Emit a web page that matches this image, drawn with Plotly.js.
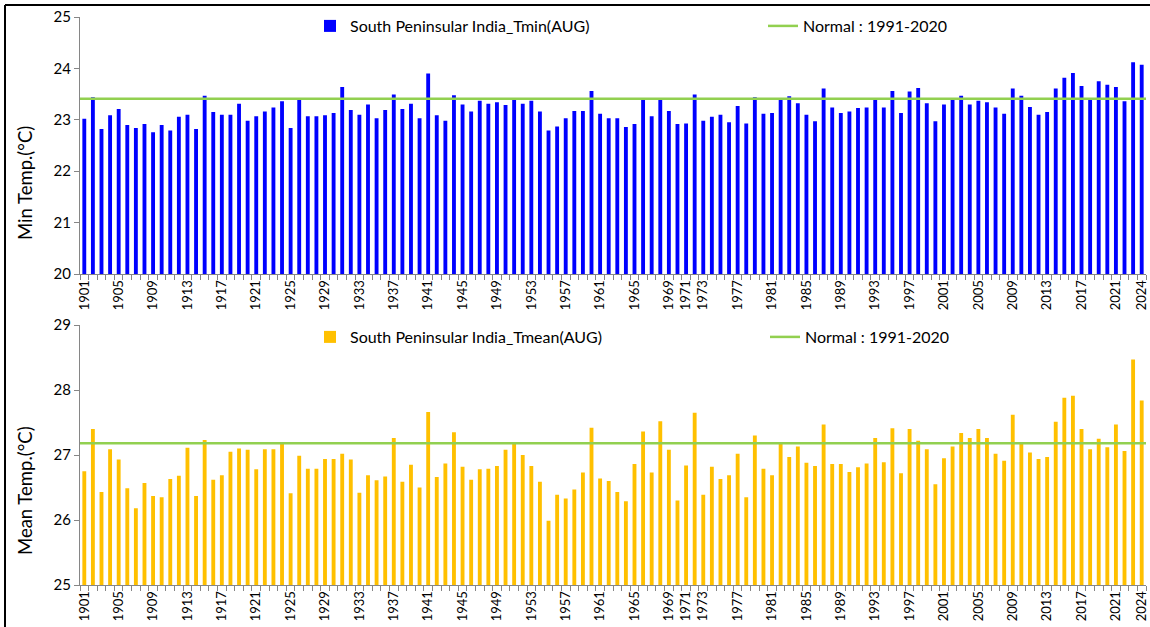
<!DOCTYPE html>
<html>
<head>
<meta charset="utf-8">
<script src="https://cdn.plot.ly/plotly-3.0.1.min.js"></script>
<style>html,body{margin:0;padding:0;background:#fff;}#chart{width:1150px;height:627px;}</style>
</head>
<body>
<div id="chart"></div>
<script>
const years = [];
for (let y = 1901; y <= 2024; y++) years.push(y);

const tmin = [
  23.02,23.44,22.82,23.09,23.21,22.90,22.84,22.92,22.76,22.90,22.79,23.06,23.10,22.82,23.47,23.15,23.10,23.10,23.31,22.98,23.07,23.16,23.24,23.36,22.84,
  23.40,23.07,23.07,23.09,23.13,23.64,23.19,23.10,23.30,23.03,23.19,23.49,23.21,23.31,23.03,23.90,23.09,22.98,23.48,23.30,23.16,23.37,23.31,23.34,
  23.29,23.40,23.31,23.37,23.16,22.79,22.87,23.03,23.17,23.17,23.56,23.12,23.03,23.03,22.86,22.92,23.40,23.07,23.40,23.17,22.92,22.93,23.49,22.98,23.06,
  23.10,22.95,23.27,22.93,23.44,23.12,23.13,23.40,23.46,23.32,23.10,22.97,23.61,23.24,23.13,23.16,23.23,23.24,23.40,23.24,23.56,23.13,23.55,23.62,
  23.32,22.97,23.30,23.40,23.47,23.30,23.37,23.34,23.24,23.12,23.61,23.47,23.25,23.10,23.15,23.61,23.82,23.91,23.66,23.40,23.75,23.68,23.64,23.36,24.12,24.07
];

const tmean = [
  26.75,27.40,26.43,27.09,26.93,26.49,26.18,26.57,26.37,26.35,26.63,26.68,27.11,26.37,27.23,26.62,26.69,27.05,27.10,27.08,26.78,27.09,27.09,27.17,26.41,
  26.99,26.79,26.79,26.94,26.94,27.02,26.93,26.42,26.69,26.61,26.67,27.26,26.59,26.85,26.50,27.66,26.66,26.87,27.35,26.82,26.62,26.78,26.79,26.83,
  27.08,27.17,27.00,26.83,26.59,25.99,26.39,26.33,26.47,26.73,27.42,26.64,26.60,26.43,26.29,26.86,27.36,26.73,27.52,27.08,26.30,26.84,27.65,26.39,26.82,
  26.63,26.69,27.02,26.35,27.30,26.79,26.69,27.17,26.97,27.13,26.88,26.83,27.47,26.86,26.86,26.74,26.81,26.87,27.26,26.89,27.41,26.72,27.40,27.22,
  27.09,26.55,26.95,27.13,27.34,27.26,27.40,27.26,27.02,26.91,27.62,27.17,27.04,26.94,26.97,27.51,27.88,27.91,27.40,27.09,27.25,27.12,27.47,27.06,28.47,27.84
];

const normalTmin = 23.41;
const normalTmean = 27.18;

const tickYears = [1901,1905,1909,1913,1917,1921,1925,1929,1933,1937,1941,1945,1949,1953,1957,1961,1965,1969,1971,1973,1977,1981,1985,1989,1993,1997,2001,2005,2009,2013,2017,2021,2024];

const nameTmin = 'South Peninsular India_Tmin(AUG)';
const nameTmean = 'South Peninsular India_Tmean(AUG)';
const nameNormal = 'Normal : 1991-2020';
const titleTmin = 'Min Temp.(°C)';
const titleTmean = 'Mean Temp.(°C)';

const FONT = 'Lato, "Open Sans", sans-serif';
const axisGrey = '#868686';
const green = '#92D050';

const W = 1150, H = 627, ML = 80, MR = 4;
const PW = W - ML - MR;

const xStart = years[0] - 0.5, xEnd = years[years.length - 1] + 0.5;
const between = years.map(y => y - 0.5).concat([xEnd]);

function xAxis(anchor) {
  return {
    anchor: anchor,
    range: [xStart, xEnd],
    tickmode: 'array',
    tickvals: tickYears,
    ticktext: tickYears.map(String),
    tickangle: -90,
    ticks: '',
    ticklabeloverflow: 'allow',
    showline: true, linecolor: axisGrey, linewidth: 1,
    showgrid: false, zeroline: false,
    tickfont: {family: FONT, size: 13, color: '#000'},
    minor: {tickmode: 'array', tickvals: between, ticks: 'outside', ticklen: 5, tickcolor: axisGrey, showgrid: false},
    automargin: false, fixedrange: true
  };
}
function yAxis(anchor, domain, range) {
  return {
    anchor: anchor, domain: domain, range: range, dtick: 1,
    ticks: 'outside', ticklen: 5, tickcolor: axisGrey,
    showline: true, linecolor: axisGrey, linewidth: 1,
    showgrid: false, zeroline: false,
    tickfont: {family: FONT, size: 15, color: '#000'},
    automargin: false, fixedrange: true
  };
}

const traces = [
  {type: 'bar', x: years, y: tmin, name: nameTmin, marker: {color: '#0000FF'}, width: 0.45,
   xaxis: 'x', yaxis: 'y', legend: 'legend'},
  {type: 'scatter', mode: 'lines', x: [xStart, xEnd], y: [normalTmin, normalTmin], name: nameNormal,
   line: {color: green, width: 2.5}, xaxis: 'x', yaxis: 'y', legend: 'legend3'},
  {type: 'bar', x: years, y: tmean, name: nameTmean, marker: {color: '#FFC000'}, width: 0.45,
   xaxis: 'x2', yaxis: 'y2', legend: 'legend2'},
  {type: 'scatter', mode: 'lines', x: [xStart, xEnd], y: [normalTmean, normalTmean], name: nameNormal,
   line: {color: green, width: 2.5}, xaxis: 'x2', yaxis: 'y2', legend: 'legend4'}
];

function leg(px, py) {
  return {
    orientation: 'h', xanchor: 'left', yanchor: 'middle',
    x: (px - ML) / PW, y: 1 - py / H,
    font: {family: FONT, size: 16, color: '#000'},
    bgcolor: 'rgba(0,0,0,0)', borderwidth: 0,
    itemclick: false, itemdoubleclick: false
  };
}
function yTitle(text, py) {
  return {
    text: text, xref: 'paper', yref: 'paper',
    x: (25 - ML) / PW, y: 1 - py / H,
    xanchor: 'center', yanchor: 'middle', textangle: -90, showarrow: false,
    font: {family: FONT, size: 18.5, color: '#000'}
  };
}

const layout = {
  width: W, height: H,
  margin: {l: ML, r: MR, t: 0, b: 0},
  paper_bgcolor: '#fff', plot_bgcolor: '#fff',
  barmode: 'overlay',
  xaxis: xAxis('y'),
  yaxis: yAxis('x', [1 - 274/H, 1 - 17/H], [20, 25]),
  xaxis2: xAxis('y2'),
  yaxis2: yAxis('x2', [1 - 585/H, 1 - 325/H], [25, 29]),
  legend: leg(310, 26),
  legend3: leg(763, 26),
  legend2: leg(310, 337),
  legend4: leg(765, 337),
  annotations: [yTitle(titleTmin, 183), yTitle(titleTmean, 491)],
  shapes: [
    {type: 'line', xref: 'paper', yref: 'paper', x0: -75/PW, x1: -75/PW, y0: -0.1, y1: 1 - 5/H, line: {color: '#000', width: 2}},
    {type: 'line', xref: 'paper', yref: 'paper', x0: -75/PW, x1: 1.1, y0: 1 - 5/H, y1: 1 - 5/H, line: {color: '#000', width: 2}}
  ],
  showlegend: true
};

Plotly.newPlot('chart', traces, layout, {displayModeBar: false, staticPlot: true});
</script>
</body>
</html>
